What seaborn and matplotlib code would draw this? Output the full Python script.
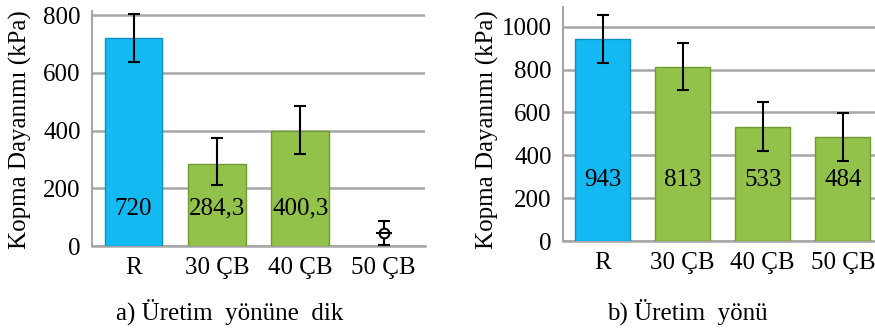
import matplotlib
matplotlib.use("Agg")
import matplotlib.pyplot as plt
import pandas as pd
import seaborn as sns

# Data
categories = ["R", "30 ÇB", "40 ÇB", "50 ÇB"]

# a) perpendicular to production direction
perp_values = [720, 284.3, 400.3, 0]
perp_errors = [83, 81, 84, 42]
perp_err_centers = [720, 292, 402, 45]
perp_labels = ["720", "284,3", "400,3", ""]

# b) production direction
prod_values = [943, 813, 533, 484]
prod_errors = [112, 109, 114, 112]
prod_labels = ["943", "813", "533", "484"]

BLUE = "#12B9F2"
GREEN = "#92C24A"
GRID = "#A6A6A6"
FONT = ["Liberation Serif", "DejaVu Serif"]
FS = 18


def draw_panel(ax, values, errors, centers, labels, ymax, yticks, label_y):
    df = pd.DataFrame({"cat": categories, "val": values})
    colors = [BLUE] + [GREEN] * (len(categories) - 1)
    sns.barplot(data=df, x="cat", y="val", hue="cat", palette=colors,
                saturation=1, width=0.69, legend=False, ax=ax, zorder=3,
                edgecolor="#6E9A30", linewidth=1.0)
    # blue bar edge, hide empty bars
    ax.patches[0].set_edgecolor("#0E8FC0")
    for p in ax.patches:
        if p.get_height() == 0:
            p.set_visible(False)

    ax.errorbar(range(len(categories)), centers, yerr=errors, fmt="none",
                ecolor="black", elinewidth=1.5, capsize=4.5, capthick=1.5,
                zorder=4)
    for i, txt in enumerate(labels):
        if txt:
            ax.text(i, label_y, txt, ha="center", va="center",
                    fontsize=FS, family=FONT, color="black", zorder=5)

    ax.set_xlim(-0.5, len(categories) - 0.5)
    ax.set_ylim(0, ymax)
    ax.set_yticks(yticks)
    ax.yaxis.grid(True, color=GRID, linewidth=1.8, zorder=0)
    ax.xaxis.grid(False)
    ax.set_axisbelow(True)
    ax.set_xlabel("")
    ax.set_ylabel("")
    for s in ["top", "right"]:
        ax.spines[s].set_visible(False)
    ax.spines["left"].set_color(GRID)
    ax.spines["left"].set_linewidth(1.5)
    ax.spines["bottom"].set_color(GRID)
    ax.spines["bottom"].set_linewidth(1.8)
    ax.tick_params(length=0, labelsize=FS, pad=8, labelcolor="black")
    for t in ax.get_xticklabels() + ax.get_yticklabels():
        t.set_family(FONT)


sns.set_theme(style="white")
plt.rcParams["font.family"] = FONT
plt.rcParams["text.color"] = "black"

fig = plt.figure(figsize=(8.75, 3.29), dpi=100)
ax1 = fig.add_axes([0.105, 0.252, 0.381, 0.715])
ax2 = fig.add_axes([0.643, 0.267, 0.366, 0.712])

draw_panel(ax1, perp_values, perp_errors, perp_err_centers, perp_labels,
           815, [0, 200, 400, 600, 800], 130)
# small open marker for the 50 ÇB point
ax1.plot([3], [perp_err_centers[3]], marker="o", ms=7, mfc="white",
         mec="black", mew=1.5, ls="none", zorder=5)
ax1.plot([3], [perp_err_centers[3]], marker="_", ms=12, mec="black",
         mew=1.5, ls="none", zorder=6)

draw_panel(ax2, prod_values, prod_errors, prod_values, prod_labels,
           1092, [0, 200, 400, 600, 800, 1000], 285)

fig.text(0.023, 0.605, "Kopma Dayanımı (kPa)", rotation=90, ha="center",
         va="center", fontsize=FS, family=FONT)
fig.text(0.557, 0.605, "Kopma Dayanımı (kPa)", rotation=90, ha="center",
         va="center", fontsize=FS, family=FONT)
fig.text(0.263, 0.052, "a) Üretim  yönüne  dik", ha="center", va="center",
         fontsize=FS, family=FONT)
fig.text(0.786, 0.052, "b) Üretim  yönü", ha="center", va="center",
         fontsize=FS, family=FONT)

fig.savefig("out.png", dpi=100)
